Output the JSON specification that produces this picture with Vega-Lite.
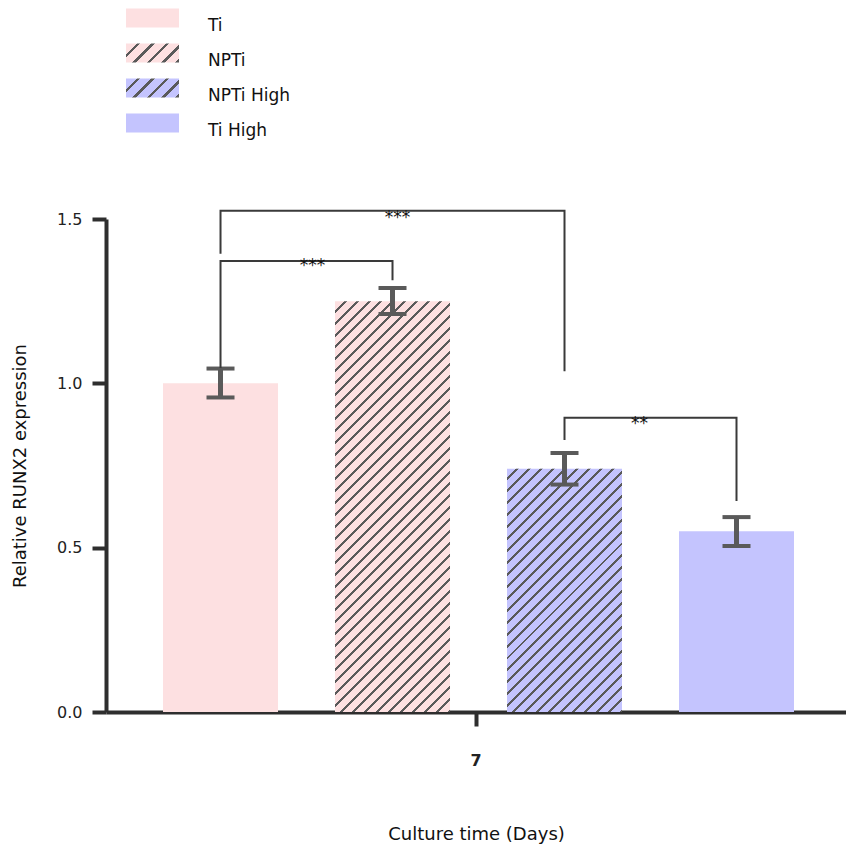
{
  "$schema": "https://vega.github.io/schema/vega-lite/v6.json",
  "width": 740,
  "height": 493,
  "autosize": {"type": "none"},
  "padding": {"left": 106, "top": 219, "right": 0, "bottom": 140},
  "params": [
    {"name": "legPink", "value": {"gradient": "linear", "x1": 0, "y1": 0, "x2": 1.2038, "y2": 0.4315, "stops": [
                {"offset":0,"color":"#fde0e1"},{"offset":0.15,"color":"#fde0e1"},{"offset":0.15,"color":"#5a5a5a"},{"offset":0.2,"color":"#5a5a5a"},
                {"offset":0.2,"color":"#fde0e1"},{"offset":0.35,"color":"#fde0e1"},{"offset":0.35,"color":"#5a5a5a"},{"offset":0.4,"color":"#5a5a5a"},
                {"offset":0.4,"color":"#fde0e1"},{"offset":0.55,"color":"#fde0e1"},{"offset":0.55,"color":"#5a5a5a"},{"offset":0.6,"color":"#5a5a5a"},
                {"offset":0.6,"color":"#fde0e1"},{"offset":0.75,"color":"#fde0e1"},{"offset":0.75,"color":"#5a5a5a"},{"offset":0.8,"color":"#5a5a5a"},
                {"offset":0.8,"color":"#fde0e1"},{"offset":0.95,"color":"#fde0e1"},{"offset":0.95,"color":"#5a5a5a"},{"offset":1,"color":"#5a5a5a"}
              ]}},
    {"name": "legBlue", "value": {"gradient": "linear", "x1": 0, "y1": 0, "x2": 1.2038, "y2": 0.4315, "stops": [
                {"offset":0,"color":"#c4c4fe"},{"offset":0.15,"color":"#c4c4fe"},{"offset":0.15,"color":"#5a5a5a"},{"offset":0.2,"color":"#5a5a5a"},
                {"offset":0.2,"color":"#c4c4fe"},{"offset":0.35,"color":"#c4c4fe"},{"offset":0.35,"color":"#5a5a5a"},{"offset":0.4,"color":"#5a5a5a"},
                {"offset":0.4,"color":"#c4c4fe"},{"offset":0.55,"color":"#c4c4fe"},{"offset":0.55,"color":"#5a5a5a"},{"offset":0.6,"color":"#5a5a5a"},
                {"offset":0.6,"color":"#c4c4fe"},{"offset":0.75,"color":"#c4c4fe"},{"offset":0.75,"color":"#5a5a5a"},{"offset":0.8,"color":"#5a5a5a"},
                {"offset":0.8,"color":"#c4c4fe"},{"offset":0.95,"color":"#c4c4fe"},{"offset":0.95,"color":"#5a5a5a"},{"offset":1,"color":"#5a5a5a"}
              ]}},
    {"name": "hatch", "value": [
      {"offset":0,"color":"rgba(0,0,0,0)"},{"offset":0.017,"color":"rgba(0,0,0,0)"},{"offset":0.017,"color":"#5a5a5a"},{"offset":0.0227,"color":"#5a5a5a"},
      {"offset":0.0227,"color":"rgba(0,0,0,0)"},{"offset":0.0398,"color":"rgba(0,0,0,0)"},{"offset":0.0398,"color":"#5a5a5a"},{"offset":0.0455,"color":"#5a5a5a"},
      {"offset":0.0455,"color":"rgba(0,0,0,0)"},{"offset":0.0625,"color":"rgba(0,0,0,0)"},{"offset":0.0625,"color":"#5a5a5a"},{"offset":0.0682,"color":"#5a5a5a"},
      {"offset":0.0682,"color":"rgba(0,0,0,0)"},{"offset":0.0852,"color":"rgba(0,0,0,0)"},{"offset":0.0852,"color":"#5a5a5a"},{"offset":0.0909,"color":"#5a5a5a"},
      {"offset":0.0909,"color":"rgba(0,0,0,0)"},{"offset":0.108,"color":"rgba(0,0,0,0)"},{"offset":0.108,"color":"#5a5a5a"},{"offset":0.1136,"color":"#5a5a5a"},
      {"offset":0.1136,"color":"rgba(0,0,0,0)"},{"offset":0.1307,"color":"rgba(0,0,0,0)"},{"offset":0.1307,"color":"#5a5a5a"},{"offset":0.1364,"color":"#5a5a5a"},
      {"offset":0.1364,"color":"rgba(0,0,0,0)"},{"offset":0.1534,"color":"rgba(0,0,0,0)"},{"offset":0.1534,"color":"#5a5a5a"},{"offset":0.1591,"color":"#5a5a5a"},
      {"offset":0.1591,"color":"rgba(0,0,0,0)"},{"offset":0.1761,"color":"rgba(0,0,0,0)"},{"offset":0.1761,"color":"#5a5a5a"},{"offset":0.1818,"color":"#5a5a5a"},
      {"offset":0.1818,"color":"rgba(0,0,0,0)"},{"offset":0.1989,"color":"rgba(0,0,0,0)"},{"offset":0.1989,"color":"#5a5a5a"},{"offset":0.2045,"color":"#5a5a5a"},
      {"offset":0.2045,"color":"rgba(0,0,0,0)"},{"offset":0.2216,"color":"rgba(0,0,0,0)"},{"offset":0.2216,"color":"#5a5a5a"},{"offset":0.2273,"color":"#5a5a5a"},
      {"offset":0.2273,"color":"rgba(0,0,0,0)"},{"offset":0.2443,"color":"rgba(0,0,0,0)"},{"offset":0.2443,"color":"#5a5a5a"},{"offset":0.25,"color":"#5a5a5a"},
      {"offset":0.25,"color":"rgba(0,0,0,0)"},{"offset":0.267,"color":"rgba(0,0,0,0)"},{"offset":0.267,"color":"#5a5a5a"},{"offset":0.2727,"color":"#5a5a5a"},
      {"offset":0.2727,"color":"rgba(0,0,0,0)"},{"offset":0.2898,"color":"rgba(0,0,0,0)"},{"offset":0.2898,"color":"#5a5a5a"},{"offset":0.2955,"color":"#5a5a5a"},
      {"offset":0.2955,"color":"rgba(0,0,0,0)"},{"offset":0.3125,"color":"rgba(0,0,0,0)"},{"offset":0.3125,"color":"#5a5a5a"},{"offset":0.3182,"color":"#5a5a5a"},
      {"offset":0.3182,"color":"rgba(0,0,0,0)"},{"offset":0.3352,"color":"rgba(0,0,0,0)"},{"offset":0.3352,"color":"#5a5a5a"},{"offset":0.3409,"color":"#5a5a5a"},
      {"offset":0.3409,"color":"rgba(0,0,0,0)"},{"offset":0.358,"color":"rgba(0,0,0,0)"},{"offset":0.358,"color":"#5a5a5a"},{"offset":0.3636,"color":"#5a5a5a"},
      {"offset":0.3636,"color":"rgba(0,0,0,0)"},{"offset":0.3807,"color":"rgba(0,0,0,0)"},{"offset":0.3807,"color":"#5a5a5a"},{"offset":0.3864,"color":"#5a5a5a"},
      {"offset":0.3864,"color":"rgba(0,0,0,0)"},{"offset":0.4034,"color":"rgba(0,0,0,0)"},{"offset":0.4034,"color":"#5a5a5a"},{"offset":0.4091,"color":"#5a5a5a"},
      {"offset":0.4091,"color":"rgba(0,0,0,0)"},{"offset":0.4261,"color":"rgba(0,0,0,0)"},{"offset":0.4261,"color":"#5a5a5a"},{"offset":0.4318,"color":"#5a5a5a"},
      {"offset":0.4318,"color":"rgba(0,0,0,0)"},{"offset":0.4489,"color":"rgba(0,0,0,0)"},{"offset":0.4489,"color":"#5a5a5a"},{"offset":0.4545,"color":"#5a5a5a"},
      {"offset":0.4545,"color":"rgba(0,0,0,0)"},{"offset":0.4716,"color":"rgba(0,0,0,0)"},{"offset":0.4716,"color":"#5a5a5a"},{"offset":0.4773,"color":"#5a5a5a"},
      {"offset":0.4773,"color":"rgba(0,0,0,0)"},{"offset":0.4943,"color":"rgba(0,0,0,0)"},{"offset":0.4943,"color":"#5a5a5a"},{"offset":0.5,"color":"#5a5a5a"},
      {"offset":0.5,"color":"rgba(0,0,0,0)"},{"offset":0.517,"color":"rgba(0,0,0,0)"},{"offset":0.517,"color":"#5a5a5a"},{"offset":0.5227,"color":"#5a5a5a"},
      {"offset":0.5227,"color":"rgba(0,0,0,0)"},{"offset":0.5398,"color":"rgba(0,0,0,0)"},{"offset":0.5398,"color":"#5a5a5a"},{"offset":0.5455,"color":"#5a5a5a"},
      {"offset":0.5455,"color":"rgba(0,0,0,0)"},{"offset":0.5625,"color":"rgba(0,0,0,0)"},{"offset":0.5625,"color":"#5a5a5a"},{"offset":0.5682,"color":"#5a5a5a"},
      {"offset":0.5682,"color":"rgba(0,0,0,0)"},{"offset":0.5852,"color":"rgba(0,0,0,0)"},{"offset":0.5852,"color":"#5a5a5a"},{"offset":0.5909,"color":"#5a5a5a"},
      {"offset":0.5909,"color":"rgba(0,0,0,0)"},{"offset":0.608,"color":"rgba(0,0,0,0)"},{"offset":0.608,"color":"#5a5a5a"},{"offset":0.6136,"color":"#5a5a5a"},
      {"offset":0.6136,"color":"rgba(0,0,0,0)"},{"offset":0.6307,"color":"rgba(0,0,0,0)"},{"offset":0.6307,"color":"#5a5a5a"},{"offset":0.6364,"color":"#5a5a5a"},
      {"offset":0.6364,"color":"rgba(0,0,0,0)"},{"offset":0.6534,"color":"rgba(0,0,0,0)"},{"offset":0.6534,"color":"#5a5a5a"},{"offset":0.6591,"color":"#5a5a5a"},
      {"offset":0.6591,"color":"rgba(0,0,0,0)"},{"offset":0.6761,"color":"rgba(0,0,0,0)"},{"offset":0.6761,"color":"#5a5a5a"},{"offset":0.6818,"color":"#5a5a5a"},
      {"offset":0.6818,"color":"rgba(0,0,0,0)"},{"offset":0.6989,"color":"rgba(0,0,0,0)"},{"offset":0.6989,"color":"#5a5a5a"},{"offset":0.7045,"color":"#5a5a5a"},
      {"offset":0.7045,"color":"rgba(0,0,0,0)"},{"offset":0.7216,"color":"rgba(0,0,0,0)"},{"offset":0.7216,"color":"#5a5a5a"},{"offset":0.7273,"color":"#5a5a5a"},
      {"offset":0.7273,"color":"rgba(0,0,0,0)"},{"offset":0.7443,"color":"rgba(0,0,0,0)"},{"offset":0.7443,"color":"#5a5a5a"},{"offset":0.75,"color":"#5a5a5a"},
      {"offset":0.75,"color":"rgba(0,0,0,0)"},{"offset":0.767,"color":"rgba(0,0,0,0)"},{"offset":0.767,"color":"#5a5a5a"},{"offset":0.7727,"color":"#5a5a5a"},
      {"offset":0.7727,"color":"rgba(0,0,0,0)"},{"offset":0.7898,"color":"rgba(0,0,0,0)"},{"offset":0.7898,"color":"#5a5a5a"},{"offset":0.7955,"color":"#5a5a5a"},
      {"offset":0.7955,"color":"rgba(0,0,0,0)"},{"offset":0.8125,"color":"rgba(0,0,0,0)"},{"offset":0.8125,"color":"#5a5a5a"},{"offset":0.8182,"color":"#5a5a5a"},
      {"offset":0.8182,"color":"rgba(0,0,0,0)"},{"offset":0.8352,"color":"rgba(0,0,0,0)"},{"offset":0.8352,"color":"#5a5a5a"},{"offset":0.8409,"color":"#5a5a5a"},
      {"offset":0.8409,"color":"rgba(0,0,0,0)"},{"offset":0.858,"color":"rgba(0,0,0,0)"},{"offset":0.858,"color":"#5a5a5a"},{"offset":0.8636,"color":"#5a5a5a"},
      {"offset":0.8636,"color":"rgba(0,0,0,0)"},{"offset":0.8807,"color":"rgba(0,0,0,0)"},{"offset":0.8807,"color":"#5a5a5a"},{"offset":0.8864,"color":"#5a5a5a"},
      {"offset":0.8864,"color":"rgba(0,0,0,0)"},{"offset":0.9034,"color":"rgba(0,0,0,0)"},{"offset":0.9034,"color":"#5a5a5a"},{"offset":0.9091,"color":"#5a5a5a"},
      {"offset":0.9091,"color":"rgba(0,0,0,0)"},{"offset":0.9261,"color":"rgba(0,0,0,0)"},{"offset":0.9261,"color":"#5a5a5a"},{"offset":0.9318,"color":"#5a5a5a"},
      {"offset":0.9318,"color":"rgba(0,0,0,0)"},{"offset":0.9489,"color":"rgba(0,0,0,0)"},{"offset":0.9489,"color":"#5a5a5a"},{"offset":0.9545,"color":"#5a5a5a"},
      {"offset":0.9545,"color":"rgba(0,0,0,0)"},{"offset":0.9716,"color":"rgba(0,0,0,0)"},{"offset":0.9716,"color":"#5a5a5a"},{"offset":0.9773,"color":"#5a5a5a"},
      {"offset":0.9773,"color":"rgba(0,0,0,0)"},{"offset":0.9943,"color":"rgba(0,0,0,0)"},{"offset":0.9943,"color":"#5a5a5a"},{"offset":1,"color":"#5a5a5a"}
    ]}
  ],
  "datasets": {
    "bars": [
      {"day": "7", "group": "Ti", "mean": 1.0, "low": 0.957, "high": 1.045},
      {"day": "7", "group": "NPTi", "mean": 1.25, "low": 1.211, "high": 1.29},
      {"day": "7", "group": "NPTi High", "mean": 0.74, "low": 0.692, "high": 0.788},
      {"day": "7", "group": "Ti High", "mean": 0.55, "low": 0.505, "high": 0.593}
    ],
    "brackets": [
      {"day": "7", "bracket": "b1", "seq": 1, "group": "Ti", "y": 1.05},
      {"day": "7", "bracket": "b1", "seq": 2, "group": "Ti", "y": 1.372},
      {"day": "7", "bracket": "b1", "seq": 3, "group": "NPTi", "y": 1.372},
      {"day": "7", "bracket": "b1", "seq": 4, "group": "NPTi", "y": 1.317},
      {"day": "7", "bracket": "b2", "seq": 1, "group": "Ti", "y": 1.397},
      {"day": "7", "bracket": "b2", "seq": 2, "group": "Ti", "y": 1.525},
      {"day": "7", "bracket": "b2", "seq": 3, "group": "NPTi High", "y": 1.525},
      {"day": "7", "bracket": "b2", "seq": 4, "group": "NPTi High", "y": 1.04},
      {"day": "7", "bracket": "b3", "seq": 1, "group": "NPTi High", "y": 0.831},
      {"day": "7", "bracket": "b3", "seq": 2, "group": "NPTi High", "y": 0.895},
      {"day": "7", "bracket": "b3", "seq": 3, "group": "Ti High", "y": 0.895},
      {"day": "7", "bracket": "b3", "seq": 4, "group": "Ti High", "y": 0.645}
    ],
    "sig": [
      {"day": "7", "bracket": "b1", "group": "Ti", "y": 1.372, "label": "***"},
      {"day": "7", "bracket": "b2", "group": "NPTi", "y": 1.525, "label": "***"},
      {"day": "7", "bracket": "b3", "group": "NPTi High", "y": 0.895, "label": "**"}
    ]
  },
  "encoding": {
    "x": {
      "field": "day", "type": "nominal",
      "scale": {"paddingInner": 0, "paddingOuter": 0},
      "title": "Culture time (Days)",
      "axis": {"labelAngle": 0, "labelFontSize": 16, "labelFontWeight": "bold", "labelPadding": 26, "titleFontSize": 18, "titleFontWeight": "normal", "titlePadding": 57}
    },
    "xOffset": {
      "field": "group", "type": "nominal",
      "scale": {"domain": ["Ti", "NPTi", "NPTi High", "Ti High"], "paddingInner": 0.3314, "paddingOuter": 0.3169, "align": 0.523}
    }
  },
  "layer": [
    {
      "data": {"name": "bars"},
      "transform": [{"filter": "datum.group === 'Ti' || datum.group === 'Ti High'"}],
      "mark": {"type": "bar"},
      "encoding": {
        "y": {"field": "mean", "type": "quantitative", "scale": {"domain": [0, 1.5], "nice": false},
              "title": "Relative RUNX2 expression",
              "axis": {"values": [0, 0.5, 1, 1.5], "format": ".1f", "labelFontSize": 16, "labelPadding": 10, "titleFontSize": 18, "titleFontWeight": "normal", "titlePadding": 27}},
        "fill": {
          "field": "group", "type": "nominal",
          "scale": {
            "domain": ["Ti", "NPTi", "NPTi High", "Ti High"],
            "range": ["#fde0e1", {"expr": "legPink"}, {"expr": "legBlue"}, "#c4c4fe"]
          },
          "legend": {
            "title": null, "orient": "none", "legendX": 36.5, "legendY": -211, "padding": 0,
            "symbolType": "M-2.65,-0.95H2.65V0.95H-2.65Z", "symbolSize": 400, "symbolStrokeWidth": 0, "symbolOpacity": 1,
            "labelFont": "DejaVu Sans", "labelFontSize": 17, "labelColor": "#111", "labelOffset": 45.5, "labelBaseline": "top", "rowPadding": 9
          }
        }
      }
    },
    {
      "data": {"name": "bars"},
      "transform": [{"filter": "datum.group === 'NPTi'"}],
      "mark": {"type": "bar", "fill": "#fde0e1"},
      "encoding": {"y": {"field": "mean", "type": "quantitative", "title": "Relative RUNX2 expression"}}
    },
    {
      "data": {"name": "bars"},
      "transform": [{"filter": "datum.group === 'NPTi High'"}],
      "mark": {"type": "bar", "fill": "#c4c4fe"},
      "encoding": {"y": {"field": "mean", "type": "quantitative", "title": "Relative RUNX2 expression"}}
    },
    {
      "data": {"name": "bars"},
      "transform": [{"filter": "datum.group === 'NPTi'"}],
      "mark": {"type": "bar", "fill": {"expr": "{gradient: 'linear', x1: 0, y1: 0, x2: 0.3322, y2: 1.1869, stops: hatch}"}},
      "encoding": {"y": {"field": "mean", "type": "quantitative", "title": "Relative RUNX2 expression"}}
    },
    {
      "data": {"name": "bars"},
      "transform": [{"filter": "datum.group === 'NPTi High'"}],
      "mark": {"type": "bar", "fill": {"expr": "{gradient: 'linear', x1: 0, y1: 0, x2: 0.8355, y2: 1.7669, stops: hatch}"}},
      "encoding": {"y": {"field": "mean", "type": "quantitative", "title": "Relative RUNX2 expression"}}
    },
    {
      "data": {"name": "bars"},
      "mark": {"type": "rule", "color": "#5a5a5a", "strokeWidth": 5},
      "encoding": {
        "y": {"field": "low", "type": "quantitative", "title": "Relative RUNX2 expression"},
        "y2": {"field": "high"}
      }
    },
    {
      "data": {"name": "bars"},
      "mark": {"type": "tick", "orient": "horizontal", "size": 28, "thickness": 4, "color": "#5a5a5a", "opacity": 1},
      "encoding": {"y": {"field": "high", "type": "quantitative", "title": "Relative RUNX2 expression"}}
    },
    {
      "data": {"name": "bars"},
      "mark": {"type": "tick", "orient": "horizontal", "size": 28, "thickness": 4, "color": "#5a5a5a", "opacity": 1},
      "encoding": {"y": {"field": "low", "type": "quantitative", "title": "Relative RUNX2 expression"}}
    },
    {
      "data": {"name": "brackets"},
      "mark": {"type": "line", "color": "#3a3a3a", "strokeWidth": 2, "strokeCap": "square"},
      "encoding": {
        "y": {"field": "y", "type": "quantitative", "title": "Relative RUNX2 expression"},
        "detail": {"field": "bracket"},
        "order": {"field": "seq"}
      }
    },
    {
      "data": {"name": "sig"},
      "transform": [{"filter": "datum.bracket === 'b1'"}],
      "mark": {"type": "text", "font": "DejaVu Sans", "fontSize": 17, "color": "#111", "dx": 92, "dy": 5, "baseline": "middle"},
      "encoding": {"y": {"field": "y", "type": "quantitative", "title": "Relative RUNX2 expression"}, "text": {"field": "label"}}
    },
    {
      "data": {"name": "sig"},
      "transform": [{"filter": "datum.bracket === 'b2'"}],
      "mark": {"type": "text", "font": "DejaVu Sans", "fontSize": 17, "color": "#111", "dx": 5, "dy": 7, "baseline": "middle"},
      "encoding": {"y": {"field": "y", "type": "quantitative", "title": "Relative RUNX2 expression"}, "text": {"field": "label"}}
    },
    {
      "data": {"name": "sig"},
      "transform": [{"filter": "datum.bracket === 'b3'"}],
      "mark": {"type": "text", "font": "DejaVu Sans", "fontSize": 17, "color": "#111", "dx": 75, "dy": 6, "baseline": "middle"},
      "encoding": {"y": {"field": "y", "type": "quantitative", "title": "Relative RUNX2 expression"}, "text": {"field": "label"}}
    }
  ],
  "config": {
    "view": {"stroke": null},
    "font": "DejaVu Sans",
    "axis": {
      "grid": false, "domainColor": "#2e2e2e", "domainWidth": 4, "tickColor": "#2e2e2e", "tickWidth": 4, "tickSize": 14,
      "labelFont": "DejaVu Sans", "titleFont": "DejaVu Sans", "labelColor": "#222", "titleColor": "#111"
    }
  }
}
